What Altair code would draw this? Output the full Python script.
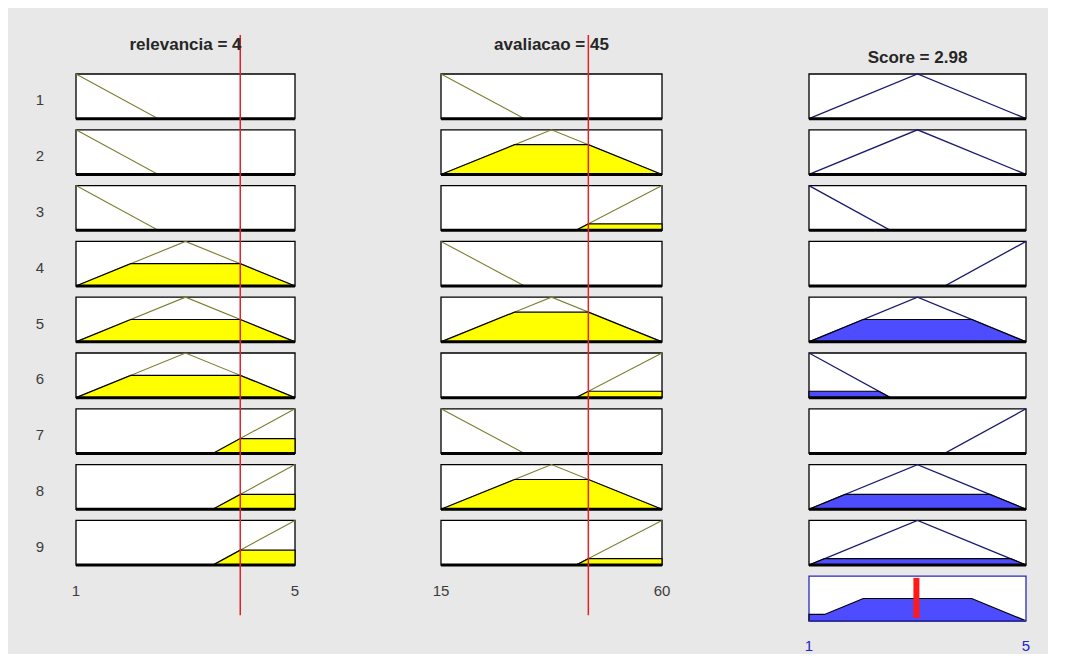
import altair as alt
import pandas as pd
import numpy as np

# ---------------- data ----------------
rel_name = "relevancia"
rel_value = 4
rel_range = [1, 5]
rel_ticks = ["1", "5"]

ava_name = "avaliacao"
ava_value = 45
ava_range = [15, 60]
ava_ticks = ["15", "60"]

out_name = "Score"
out_value = 2.98
out_range = [1, 5]
out_ticks = ["1", "5"]

rel_mfs = {"baixa": [1, 1, 2.5], "media": [1, 3, 5], "alta": [3.5, 5, 5]}
ava_mfs = {"baixa": [15, 15, 32], "media": [15, 37.5, 60], "alta": [42.5, 60, 60]}
out_mfs = {"baixo": [1, 1, 2.5], "medio": [1, 3, 5], "alto": [3.5, 5, 5]}

rule_ids = [1, 2, 3, 4, 5, 6, 7, 8, 9]
rule_rel = ["baixa", "baixa", "baixa", "media", "media", "media", "alta", "alta", "alta"]
rule_ava = ["baixa", "media", "alta", "baixa", "media", "alta", "baixa", "media", "alta"]
rule_out = ["medio", "medio", "baixo", "alto", "medio", "baixo", "alto", "medio", "medio"]

# ---------------- helpers ----------------
PANEL_H = 0.8


def base(r):
    return 10 - r


def trimf(x, p):
    a, b, c = p
    if x < a or x > c:
        return 0.0
    if x <= b:
        return 1.0 if b == a else (x - a) / (b - a)
    return 1.0 if c == b else (c - x) / (c - b)


def mf_points(p, rng):
    xs = sorted(set([rng[0], p[0], p[1], p[2], rng[1]]))
    xs = [x for x in xs if rng[0] <= x <= rng[1]]
    return [(x, trimf(x, p)) for x in xs]


def clip(points, d):
    res = []
    for (x0, y0), (x1, y1) in zip(points[:-1], points[1:]):
        res.append((x0, min(y0, d)))
        if (y0 - d) * (y1 - d) < 0:
            xc = x0 + (d - y0) * (x1 - x0) / (y1 - y0)
            res.append((xc, d))
    res.append((points[-1][0], min(points[-1][1], d)))
    return res


def aggregate(funcs):
    xs = sorted(set(x for f in funcs for x, _ in f))
    ev = lambda f, x: float(np.interp(x, [p[0] for p in f], [p[1] for p in f]))
    extra = []
    for u, v in zip(xs[:-1], xs[1:]):
        for i in range(len(funcs)):
            for j in range(i + 1, len(funcs)):
                du = ev(funcs[i], u) - ev(funcs[j], u)
                dv = ev(funcs[i], v) - ev(funcs[j], v)
                if du * dv < 0:
                    extra.append(u + du * (v - u) / (du - dv))
    xs = sorted(set(xs + extra))
    return [(x, max(ev(f, x) for f in funcs)) for x in xs]


def dom(v0, v1, p0, p1, c0, w):
    s = (p1 - p0) / (v1 - v0)
    lo = v0 - (p0 - c0) / s
    return [lo, lo + w / s]


# layout (pixels of the reference)
PX_UNIT = 55.8
H = 646
Y_HI = 9.8 + (74 - 8) / PX_UNIT
Y_DOM = [Y_HI - H / PX_UNIT, Y_HI]
W1, W2, W3 = 300, 360, 330
X1 = dom(rel_range[0], rel_range[1], 76, 295, 13, W1)
X2 = dom(ava_range[0], ava_range[1], 441, 662, 333, W2)
X3 = dom(out_range[0], out_range[1], 809, 1026, 713, W3)

BG = "#e8e8e8"
YELLOW = "#ffff00"
BLUE = "#4d4dff"
RED = "#e8202a"
FONT = "Liberation Sans"
LABEL = "#3c3c3c"

ys = alt.Scale(domain=Y_DOM, nice=False, zero=False)


def frame_layers(xsc, rows, rng, stroke="black"):
    fr = pd.DataFrame({"row": rows,
                       "x0": rng[0], "x1": rng[1],
                       "y0": [base(r) for r in rows],
                       "y1": [base(r) + PANEL_H for r in rows]})
    rect = alt.Chart(fr).mark_rect(fill="white", stroke=stroke, strokeWidth=1.3).encode(
        x=alt.X("x0:Q", scale=xsc, axis=None), x2="x1:Q",
        y=alt.Y("y0:Q", scale=ys, axis=None), y2="y1:Q")
    return rect, fr


def bottom_layer(xsc, fr, color="black", width=3):
    return alt.Chart(fr).mark_rule(color=color, strokeWidth=width).encode(
        x=alt.X("x0:Q", scale=xsc, axis=None), x2="x1:Q",
        y=alt.Y("y0:Q", scale=ys, axis=None))


def lines_layer(xsc, mfs_by_row, rng, color, width=1.1):
    recs = []
    for r, p in mfs_by_row:
        for i, (x, m) in enumerate(mf_points(p, rng)):
            recs.append({"row": r, "i": i, "x": x, "y": base(r) + m * PANEL_H})
    return alt.Chart(pd.DataFrame(recs)).mark_line(color=color, strokeWidth=width).encode(
        x=alt.X("x:Q", scale=xsc, axis=None),
        y=alt.Y("y:Q", scale=ys, axis=None),
        detail="row:N", order="i:Q")


def fill_layer(xsc, polys, color):
    recs = []
    for r, pts in polys:
        for i, (x, m) in enumerate(pts):
            recs.append({"row": r, "i": i, "x": x, "y": base(r) + m * PANEL_H, "yb": base(r)})
    return alt.Chart(pd.DataFrame(recs)).mark_area(
        color=color, stroke="black", strokeWidth=1.2, opacity=1).encode(
        x=alt.X("x:Q", scale=xsc, axis=None),
        y=alt.Y("y:Q", scale=ys, axis=None), y2="yb:Q",
        detail="row:N")


def text_layer(df, xsc, size, weight="normal", color="#262626", dx=0, dy=0):
    return alt.Chart(df).mark_text(fontSize=size, fontWeight=weight, font=FONT,
                                   color=color, align="center", baseline="middle",
                                   dx=dx, dy=dy).encode(
        x=alt.X("x:Q", scale=xsc, axis=None),
        y=alt.Y("y:Q", scale=ys, axis=None),
        text="label:N")


def input_column(name, value, rng, mfs, rule_mf, ticks, xdom, width, row_labels):
    xsc = alt.Scale(domain=xdom, nice=False, zero=False)
    rect, fr = frame_layers(xsc, rule_ids, rng)
    lines = lines_layer(xsc, [(r, mfs[m]) for r, m in zip(rule_ids, rule_mf)], rng, "#7d7d2e")
    polys = []
    for r, m in zip(rule_ids, rule_mf):
        d = trimf(value, mfs[m])
        if d > 0:
            polys.append((r, clip(mf_points(mfs[m], rng), d)))
    fills = fill_layer(xsc, polys, YELLOW)
    bottom = bottom_layer(xsc, fr)
    red = alt.Chart(pd.DataFrame({"x": [value], "y0": [0.1], "y1": [10.5]})).mark_rule(
        color=RED, strokeWidth=1.5).encode(
        x=alt.X("x:Q", scale=xsc, axis=None),
        y=alt.Y("y0:Q", scale=ys, axis=None), y2="y1:Q")
    title = text_layer(pd.DataFrame({"x": [(rng[0] + rng[1]) / 2], "y": [10.32],
                                     "label": [f"{name} = {value:g}"]}), xsc, 17, "bold")
    tks = text_layer(pd.DataFrame({"x": rng, "y": [base(9) - 0.47] * 2, "label": ticks}),
                     xsc, 15, color=LABEL)
    layers = [rect, lines, fills, bottom, red, title, tks]
    if row_labels:
        rl = text_layer(pd.DataFrame({"x": [rng[0]] * 9,
                                      "y": [base(r) + PANEL_H / 2 for r in rule_ids],
                                      "label": [str(r) for r in rule_ids]}),
                        xsc, 15, color=LABEL, dx=-36, dy=4)
        layers.append(rl)
    return alt.layer(*layers).properties(width=width, height=H)


# firing strengths
strengths = [min(trimf(rel_value, rel_mfs[a]), trimf(ava_value, ava_mfs[b]))
             for a, b in zip(rule_rel, rule_ava)]

col1 = input_column(rel_name, rel_value, rel_range, rel_mfs, rule_rel, rel_ticks, X1, W1, True)
col2 = input_column(ava_name, ava_value, ava_range, ava_mfs, rule_ava, ava_ticks, X2, W2, False)

# output column
xsc3 = alt.Scale(domain=X3, nice=False, zero=False)
rect3, fr3 = frame_layers(xsc3, rule_ids, out_range)
lines3 = lines_layer(xsc3, [(r, out_mfs[m]) for r, m in zip(rule_ids, rule_out)], out_range,
                     "#1a1a70", 1.3)
clipped = [(r, clip(mf_points(out_mfs[m], out_range), s))
           for r, m, s in zip(rule_ids, rule_out, strengths)]
polys3 = [(r, pts) for (r, pts), s in zip(clipped, strengths) if s > 0]
fills3 = fill_layer(xsc3, polys3, BLUE)
bottom3 = bottom_layer(xsc3, fr3)

agg_rect, agg_fr = frame_layers(xsc3, [10], out_range, stroke="#2a2ab8")
agg_pts = aggregate([pts for _, pts in polys3])
agg_fill = fill_layer(xsc3, [(10, agg_pts)], BLUE)
agg_bottom = bottom_layer(xsc3, agg_fr, color="#2a2ab8", width=1.5)
agg_red = alt.Chart(pd.DataFrame({"x": [out_value], "y0": [0.05], "y1": [PANEL_H - 0.03]})).mark_rule(
    color="#ff1a1a", strokeWidth=6).encode(
    x=alt.X("x:Q", scale=xsc3, axis=None),
    y=alt.Y("y0:Q", scale=ys, axis=None), y2="y1:Q")
title3 = text_layer(pd.DataFrame({"x": [(out_range[0] + out_range[1]) / 2], "y": [10.09],
                                  "label": [f"{out_name} = {out_value:g}"]}), xsc3, 17, "bold")
ticks3 = text_layer(pd.DataFrame({"x": out_range, "y": [base(10) - 0.45] * 2, "label": out_ticks}),
                    xsc3, 15, color="#2424c8")

col3 = alt.layer(rect3, lines3, fills3, bottom3, agg_rect, agg_fill, agg_bottom,
                 agg_red, title3, ticks3).properties(width=W3, height=H)

chart = alt.hconcat(col1, col2, col3, spacing=20).properties(
    background=BG,
    padding={"left": 5, "top": 0, "right": 5, "bottom": 0},
).configure_view(stroke=None)

chart.save("out.html", embed_options={"renderer": "svg", "actions": False})
